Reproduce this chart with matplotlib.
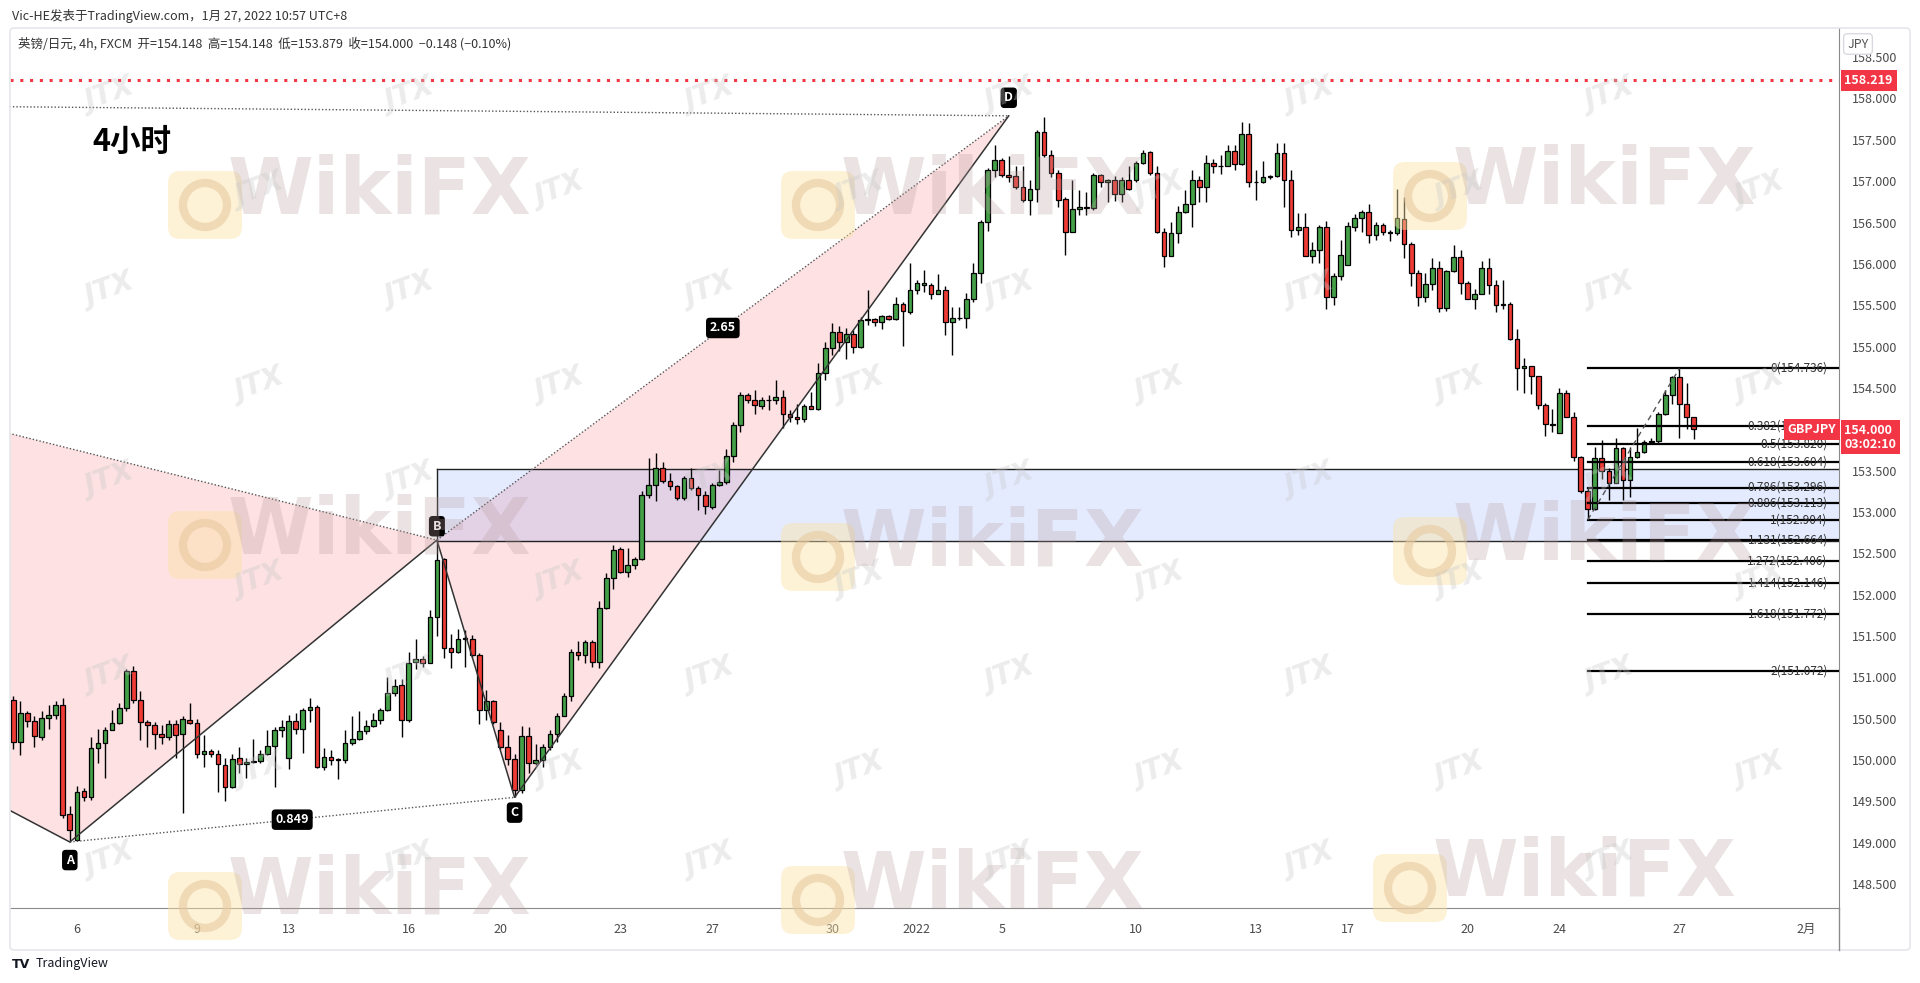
import numpy as np
import matplotlib
matplotlib.use('Agg')
import matplotlib.pyplot as plt
import matplotlib.transforms as mtransforms
from matplotlib.patches import Polygon, Rectangle, FancyBboxPatch, Circle

plt.rcParams['font.family'] = ['Noto Sans CJK SC', 'DejaVu Sans']

# 4h 蜡烛数据
opens = [
    150.73, 150.22, 150.57, 150.47, 150.28, 150.51, 150.55, 150.67, 149.35, 149.04,
    149.63, 149.55, 150.15, 150.21, 150.37, 150.45, 150.63, 151.08, 150.73, 150.46,
    150.42, 150.32, 150.28, 150.44, 150.31, 150.49, 150.45, 150.07, 150.11, 150.08,
    149.94, 149.68, 150.02, 149.95, 149.98, 149.99, 150.07, 150.17, 150.37, 150.02,
    150.47, 150.38, 150.60, 150.64, 149.92, 150.04, 150.01, 150.00, 150.21, 150.26,
    150.35, 150.41, 150.49, 150.60, 150.81, 150.91, 150.49, 151.19, 151.22, 151.17,
    151.73,
    152.43, 151.35, 151.31, 151.47, 151.47, 151.27, 150.61, 150.71, 150.36, 150.16,
    150.01, 149.64, 150.29, 149.96, 150.00, 150.16, 150.32, 150.53, 150.77, 151.31,
    151.27, 151.43, 151.19, 151.84, 152.20, 152.55, 152.27, 152.36, 152.43, 153.21,
    153.33, 153.53, 153.38, 153.31, 153.17, 153.41, 153.29, 153.21, 153.06, 153.33,
    153.36, 153.68, 154.05, 154.41, 154.36, 154.28, 154.36, 154.35, 154.39, 154.19,
    154.15, 154.12, 154.28, 154.25, 154.68, 154.98, 155.18, 155.05, 155.15,
    155.00, 155.32, 155.33, 155.30, 155.37, 155.33, 155.52, 155.42, 155.68, 155.75,
    155.75, 155.64, 155.68, 155.30, 155.34, 155.34, 155.58, 155.89, 156.51, 157.13,
    157.26, 157.07, 157.06, 156.93, 156.77, 156.90, 157.60, 157.32, 157.10, 156.78,
    156.39, 156.66, 156.68, 156.68, 157.07, 156.99, 157.02, 156.85, 157.01, 157.01,
    157.22, 157.35, 157.10, 156.39, 156.09, 156.37, 156.63, 156.73, 157.01, 156.93,
    157.22, 157.18, 157.18, 157.36, 157.21, 157.57, 156.99, 156.99, 157.05, 157.06,
    157.34, 157.01, 156.41,
    156.44, 156.10, 156.17, 156.45, 155.60, 155.85, 155.99, 156.45, 156.56, 156.63,
    156.35, 156.47, 156.38, 156.37, 156.54, 156.24, 155.89, 155.60, 155.76, 155.95,
    155.47, 155.91, 156.08, 155.77, 155.58, 155.64, 155.95, 155.74, 155.50, 155.51,
    155.09, 154.74, 154.76, 154.64, 154.29, 154.07, 153.95, 154.44, 154.15, 153.66,
    153.25, 153.04, 153.65, 153.49, 153.35, 153.77, 153.39, 153.66, 153.73, 153.85,
    153.86, 154.19, 154.41, 154.63, 154.31, 154.148,
]
highs = [
    150.77, 150.71, 150.59, 150.53, 150.59, 150.67, 150.71, 150.75, 149.44, 149.69,
    149.66, 150.28, 150.38, 150.40, 150.60, 150.69, 151.10, 151.14, 150.83, 150.48,
    150.46, 150.42, 150.49, 150.49, 150.53, 150.69, 150.50, 150.30, 150.14, 150.12,
    150.02, 150.08, 150.16, 150.02, 150.26, 150.12, 150.36, 150.40, 150.49, 150.54,
    150.57, 150.63, 150.75, 150.67, 150.15, 150.12, 150.02, 150.36, 150.53, 150.59,
    150.49, 150.57, 150.63, 151.01, 150.98, 150.98, 151.31, 151.47, 151.26, 151.82,
    152.66,
    152.44, 151.53, 151.59, 151.57, 151.51, 151.29, 150.85, 150.73, 150.46, 150.30,
    150.08, 150.41, 150.40, 150.20, 150.20, 150.36, 150.57, 150.81, 151.34, 151.44,
    151.45, 151.45, 151.92, 152.26, 152.60, 152.58, 152.57, 152.45, 153.25, 153.65,
    153.71, 153.60, 153.47, 153.33, 153.43, 153.53, 153.31, 153.25, 153.35, 153.51,
    153.76, 154.09, 154.45, 154.44, 154.47, 154.39, 154.41, 154.59, 154.47, 154.23,
    154.31, 154.31, 154.45, 154.80, 155.05, 155.28, 155.25, 155.22, 155.20,
    155.36, 155.68, 155.34, 155.38, 155.38, 155.60, 155.54, 156.01, 155.81, 155.93,
    155.77, 155.88, 155.73, 155.48, 155.48, 155.65, 156.01, 156.53, 157.16, 157.44,
    157.28, 157.30, 157.18, 157.18, 157.01, 157.62, 157.78, 157.38, 157.14, 156.81,
    157.01, 156.89, 156.87, 157.10, 157.09, 157.03, 157.06, 157.05, 157.18, 157.24,
    157.38, 157.36, 157.18, 156.43, 156.51, 156.70, 156.89, 157.14, 157.06, 157.32,
    157.27, 157.32, 157.44, 157.44, 157.71, 157.70, 157.13, 157.24, 157.07, 157.46,
    157.46, 157.14, 156.61,
    156.62, 156.26, 156.47, 156.52, 155.89, 156.29, 156.51, 156.60, 156.65, 156.72,
    156.51, 156.50, 156.41, 156.91, 156.81, 156.26, 155.92, 155.89, 156.07, 156.03,
    155.93, 156.23, 156.17, 155.79, 155.70, 156.03, 156.07, 155.80, 155.80, 155.54,
    155.21, 154.86, 154.77, 154.65, 154.32, 154.24, 154.50, 154.47, 154.21, 153.68,
    153.30, 153.79, 153.87, 153.53, 153.90, 153.79, 153.79, 154.01, 153.87, 153.90,
    154.21, 154.47, 154.64, 154.736, 154.56, 154.148,
]
lows = [
    150.14, 150.06, 150.40, 150.16, 150.24, 150.38, 150.50, 149.30, 149.01, 149.03,
    149.50, 149.52, 149.96, 149.78, 150.36, 150.44, 150.59, 150.69, 150.24, 150.16,
    150.13, 150.19, 150.24, 150.02, 149.36, 150.44, 150.02, 149.92, 150.04, 149.62,
    149.50, 149.66, 149.84, 149.78, 149.97, 149.97, 150.06, 149.68, 150.28, 149.89,
    150.32, 150.09, 150.46, 149.91, 149.88, 149.94, 149.77, 149.97, 150.18, 150.24,
    150.32, 150.40, 150.44, 150.59, 150.77, 150.28, 150.46, 151.10, 151.13, 151.17,
    151.50,
    151.23, 151.11, 151.29, 151.13, 151.25, 150.44, 150.48, 150.44, 150.14, 149.94,
    149.55, 149.60, 149.84, 149.94, 149.92, 150.12, 150.22, 150.53, 150.72, 151.21,
    151.17, 151.13, 151.11, 151.83, 152.07, 152.26, 152.21, 152.31, 152.42, 153.17,
    153.13, 153.35, 153.26, 153.15, 153.15, 153.26, 153.02, 152.98, 153.04, 153.31,
    153.34, 153.60, 153.97, 154.32, 154.19, 154.25, 154.23, 154.31, 154.01, 154.09,
    154.07, 154.09, 154.24, 154.23, 154.60, 154.90, 154.95, 154.85, 154.92,
    154.98, 155.26, 155.25, 155.21, 155.32, 155.32, 155.01, 155.40, 155.64, 155.66,
    155.58, 155.64, 155.14, 154.90, 155.32, 155.22, 155.54, 155.77, 156.40, 157.05,
    157.05, 156.99, 156.91, 156.75, 156.59, 156.75, 157.29, 157.05, 156.69, 156.11,
    156.38, 156.59, 156.59, 156.65, 156.93, 156.75, 156.76, 156.75, 156.89, 156.99,
    157.21, 157.08, 156.37, 155.96, 156.09, 156.25, 156.62, 156.44, 156.75, 156.75,
    157.10, 157.09, 157.18, 157.13, 157.20, 156.93, 156.77, 156.98, 157.03, 157.05,
    156.69, 156.33, 156.35,
    156.09, 156.01, 156.01, 155.46, 155.50, 155.80, 155.99, 156.40, 156.39, 156.25,
    156.29, 156.35, 156.28, 156.35, 156.07, 155.73, 155.49, 155.54, 155.69, 155.42,
    155.43, 155.90, 155.64, 155.57, 155.46, 155.63, 155.64, 155.42, 155.46, 155.08,
    154.47, 154.44, 154.43, 154.24, 153.92, 153.97, 153.95, 154.15, 153.62, 153.23,
    152.904, 153.03, 153.40, 153.14, 153.35, 153.14, 153.18, 153.65, 153.71, 153.82,
    153.82, 154.17, 154.31, 153.90, 154.00, 153.879,
]
closes = [
    150.22, 150.57, 150.47, 150.29, 150.51, 150.55, 150.67, 149.34, 149.15, 149.62,
    149.55, 150.15, 150.21, 150.37, 150.45, 150.63, 151.08, 150.73, 150.46, 150.42,
    150.32, 150.28, 150.44, 150.30, 150.50, 150.45, 150.07, 150.11, 150.08, 149.95,
    149.68, 150.01, 149.95, 149.98, 149.99, 150.07, 150.17, 150.37, 150.40, 150.47,
    150.38, 150.60, 150.64, 149.92, 150.04, 150.00, 150.00, 150.21, 150.26, 150.35,
    150.41, 150.49, 150.60, 150.81, 150.90, 150.49, 151.18, 151.22, 151.17, 151.73,
    152.42,
    151.35, 151.31, 151.47, 151.48, 151.27, 150.61, 150.71, 150.46, 150.16, 150.01,
    149.64, 150.29, 149.96, 150.00, 150.16, 150.32, 150.53, 150.77, 151.31, 151.27,
    151.43, 151.19, 151.84, 152.20, 152.54, 152.27, 152.36, 152.43, 153.21, 153.33,
    153.53, 153.38, 153.31, 153.17, 153.41, 153.29, 153.21, 153.07, 153.33, 153.36,
    153.68, 154.05, 154.41, 154.36, 154.29, 154.36, 154.35, 154.39, 154.19, 154.15,
    154.12, 154.28, 154.25, 154.68, 154.98, 155.18, 155.05, 155.15, 155.00,
    155.32, 155.33, 155.30, 155.37, 155.33, 155.52, 155.43, 155.68, 155.77, 155.77,
    155.64, 155.68, 155.30, 155.34, 155.35, 155.58, 155.89, 156.51, 157.13, 157.26,
    157.07, 157.05, 156.93, 156.77, 156.90, 157.60, 157.32, 157.10, 156.77, 156.39,
    156.66, 156.69, 156.69, 157.07, 156.99, 157.02, 156.85, 157.01, 156.91, 157.22,
    157.34, 157.10, 156.39, 156.09, 156.37, 156.63, 156.73, 157.01, 156.93, 157.22,
    157.18, 157.18, 157.36, 157.21, 157.57, 156.99, 156.99, 157.05, 157.06, 157.34,
    157.01, 156.41, 156.45,
    156.10, 156.17, 156.45, 155.60, 155.85, 156.11, 156.46, 156.56, 156.63, 156.35,
    156.47, 156.38, 156.37, 156.55, 156.24, 155.89, 155.60, 155.76, 155.95, 155.47,
    155.91, 156.08, 155.77, 155.58, 155.64, 155.95, 155.74, 155.50, 155.52, 155.09,
    154.74, 154.76, 154.64, 154.29, 154.07, 154.05, 154.44, 154.15, 153.66, 153.25,
    153.04, 153.65, 153.49, 153.35, 153.77, 153.39, 153.66, 153.73, 153.85, 153.86,
    154.19, 154.41, 154.63, 154.31, 154.15, 154.000,
]

# 时间轴标签 (K线序号位置)
tick_pos = [9, 26, 39, 56, 69, 86, 99, 116, 128, 140, 159, 176, 189, 206, 219, 236, 254]
tick_labels = ['6', '9', '13', '16', '20', '23', '27', '30', '2022', '5', '10', '13',
               '17', '20', '24', '27', '2月']

# XABCD 形态点 (X 在画面左侧之外)
pat_names = ['X', 'A', 'B', 'C', 'D']
pat_x = [-193, 8, 60, 71, 141]
pat_y = [158.05, 149.01, 152.66, 149.55, 157.79]
ratio_ac = '0.849'
ratio_bd = '2.65'

# 斐波那契
fib_start, fib_end = 223, 236
fib_ratio = ['0', '0.382', '0.5', '0.618', '0.786', '0.886', '1', '1.131', '1.272',
             '1.414', '1.618', '2']
fib_price = [154.736, 154.036, 153.820, 153.604, 153.296, 153.113, 152.904, 152.664,
             152.406, 152.146, 151.772, 151.072]

zone_low, zone_high = 152.65, 153.52
red_level = 158.219
last_price = 154.000

W, H = 1920, 983
fig = plt.figure(figsize=(W / 100, H / 100), dpi=100)
fig.patch.set_facecolor('white')
ax = fig.add_axes([10 / W, 1 - 908 / H, 1829 / W, 880 / H])
ax.set_xlim(-0.47, 258.6)
ax.set_ylim(148.212, 158.852)
trans = mtransforms.blended_transform_factory(ax.transAxes, ax.transData)

# 水印
for lx, ly in [(205, 205), (818, 205), (1430, 196), (205, 545), (818, 557), (1430, 551),
               (205, 906), (818, 900), (1410, 888)]:
    fig.add_artist(FancyBboxPatch((lx - 37, H - ly - 34), 74, 68,
                                  boxstyle='round,pad=0,rounding_size=12',
                                  transform=mtransforms.IdentityTransform(),
                                  fc='#fbe3a6', ec='none', alpha=0.45, zorder=0.2))
    fig.add_artist(Circle((lx, H - ly), 22, transform=mtransforms.IdentityTransform(),
                          fc='none', ec='#e8c9a0', lw=6, alpha=0.6, zorder=0.21))
    fig.text((lx + 175) / W, 1 - (ly - 14) / H, 'WikiFX', fontsize=56, fontweight='bold',
             color='#b89c9c', alpha=0.28, ha='center', va='center', family='DejaVu Sans',
             zorder=0.3)
for row, jy in enumerate([95, 190, 290, 385, 480, 580, 675, 770, 860]):
    off = 0 if row % 2 == 0 else 150
    for jx in range(110 + off, 1830, 300):
        fig.text(jx / W, 1 - jy / H, 'JTX', fontsize=20, fontweight='bold', style='italic',
                 color='#c8c8c8', alpha=0.35, rotation=20, ha='center', va='center',
                 family='DejaVu Sans', zorder=0.3)

# 形态填充和连线
pts = list(zip(pat_x, pat_y))
ax.add_patch(Polygon([pts[0], pts[1], pts[2]], closed=True, fc='#f23645', alpha=0.15,
                     ec='none', zorder=1))
ax.add_patch(Polygon([pts[2], pts[3], pts[4]], closed=True, fc='#f23645', alpha=0.15,
                     ec='none', zorder=1))
ax.add_patch(Rectangle((pat_x[2], zone_low), 400, zone_high - zone_low, fc='#2962ff',
                       alpha=0.12, ec='none', zorder=1))
ax.plot([pat_x[2], 400], [zone_high, zone_high], color='#222', lw=1, zorder=2)
ax.plot([pat_x[2], 400], [zone_low, zone_low], color='#222', lw=1, zorder=2)
ax.plot([pat_x[2], pat_x[2]], [zone_low, zone_high], color='#222', lw=1, zorder=2)

# 蜡烛
idx = np.arange(len(opens))
o = np.array(opens)
c = np.array(closes)
up = c >= o
body_col = np.where(up, '#43a047', '#ef3b36')
ax.vlines(idx, lows, highs, color='black', lw=1, zorder=3)
ax.bar(idx, np.maximum(np.abs(c - o), 0.006), bottom=np.minimum(o, c), width=0.66,
       color=body_col, edgecolor='black', linewidth=0.9, zorder=4)

ax.plot(pat_x, pat_y, color='#333', lw=1.1, zorder=5)
for i, j in [(0, 2), (1, 3), (2, 4), (0, 4)]:
    ax.plot([pat_x[i], pat_x[j]], [pat_y[i], pat_y[j]], color='#555', lw=1,
            linestyle=(0, (1, 1.5)), zorder=5)

lab_style = dict(color='white', fontsize=9, fontweight='bold', ha='center', va='center',
                 bbox=dict(boxstyle='round,pad=0.3', fc='black', ec='none'), zorder=7,
                 textcoords='offset points')
ax.annotate('A', (pat_x[1], pat_y[1]), xytext=(0, -13), **lab_style)
ax.annotate('B', (pat_x[2], pat_y[2]), xytext=(0, 10), **lab_style)
ax.annotate('C', (pat_x[3], pat_y[3]), xytext=(0, -11), **lab_style)
ax.annotate('D', (pat_x[4], pat_y[4]), xytext=(0, 13), **lab_style)
ax.annotate(ratio_ac, ((pat_x[1] + pat_x[3]) / 2, (pat_y[1] + pat_y[3]) / 2),
            xytext=(0, 0), **lab_style)
ax.annotate(ratio_bd, ((pat_x[2] + pat_x[4]) / 2, (pat_y[2] + pat_y[4]) / 2),
            xytext=(0, 0), **lab_style)

# 斐波那契线
for r, p in zip(fib_ratio, fib_price):
    ax.plot([fib_start, 300], [p, p], color='black', lw=1.6, zorder=5)
    ax.text(257.0, p, f'{r}({p:.3f})', ha='right', va='center', fontsize=8.5,
            color='#333', zorder=6)
ax.plot([fib_start, fib_end], [fib_price[6], fib_price[0]], color='#555', lw=1,
        linestyle=(0, (4, 3)), zorder=5)

# 红色水平线
ax.axhline(red_level, color='#f23645', lw=2.2, linestyle=(0, (1, 2.2)), zorder=5)

tag = dict(color='white', fontsize=9, fontweight='bold', transform=trans, clip_on=False,
           zorder=8)
ax.text(1.003, red_level, f'{red_level:.3f}', ha='left', va='center',
        bbox=dict(boxstyle='square,pad=0.3', fc='#f23645', ec='none'), **tag)
ax.text(0.9985, last_price, 'GBPJPY', ha='right', va='center',
        bbox=dict(boxstyle='square,pad=0.3', fc='#f23645', ec='none'), **tag)
ax.text(1.003, last_price + 0.07, f'{last_price:.3f}\n03:02:10', ha='left', va='top',
        linespacing=1.1, bbox=dict(boxstyle='square,pad=0.3', fc='#f23645', ec='none'),
        **tag)

# 坐标轴
ax.yaxis.tick_right()
yt = np.arange(148.5, 158.51, 0.5)
ax.set_yticks(yt, [f'{v:.3f}' for v in yt])
ax.tick_params(axis='y', length=0, pad=9, labelsize=9, labelcolor='#4a4a4a')
ax.set_xticks(tick_pos, tick_labels)
ax.tick_params(axis='x', length=0, pad=11, labelsize=9, labelcolor='#4a4a4a')
for s in ['top', 'left']:
    ax.spines[s].set_visible(False)
ax.spines['right'].set_color('#8a8a8a')
ax.spines['bottom'].set_color('#8a8a8a')
ax.set_facecolor('none')

# 外框和文字
fig.add_artist(FancyBboxPatch((10, H - 950), 1900, 922,
                              boxstyle='round,pad=0,rounding_size=4',
                              transform=mtransforms.IdentityTransform(),
                              fc='none', ec='#e4e6eb', lw=1.2, zorder=0.1))
fig.add_artist(plt.Line2D([1839, 1839], [H - 950, H - 908],
                          transform=mtransforms.IdentityTransform(), color='#8a8a8a', lw=1))
fig.text(1858 / W, 1 - 44 / H, 'JPY', fontsize=9, color='#555', ha='center', va='center',
         bbox=dict(boxstyle='round,pad=0.3', fc='white', ec='#d8dae0'))
fig.text(12 / W, 1 - 16 / H, 'Vic-HE发表于TradingView.com，1月 27, 2022 10:57 UTC+8',
         fontsize=9, color='#333', ha='left', va='center')
fig.text(18 / W, 1 - 44 / H,
         '英镑/日元, 4h, FXCM  开=154.148  高=154.148  低=153.879  收=154.000  −0.148 (−0.10%)',
         fontsize=9, color='#333', ha='left', va='center')
fig.text(92 / W, 1 - 142 / H, '4小时', fontsize=22, fontweight='bold', color='black',
         ha='left', va='center')
fig.text(12 / W, 1 - 964 / H, 'TV', fontsize=9, fontweight='heavy', color='#131722',
         ha='left', va='center', family='DejaVu Sans')
fig.text(36 / W, 1 - 964 / H, 'TradingView', fontsize=9, color='#131722', ha='left',
         va='center')

fig.savefig('out.png', dpi=100)
